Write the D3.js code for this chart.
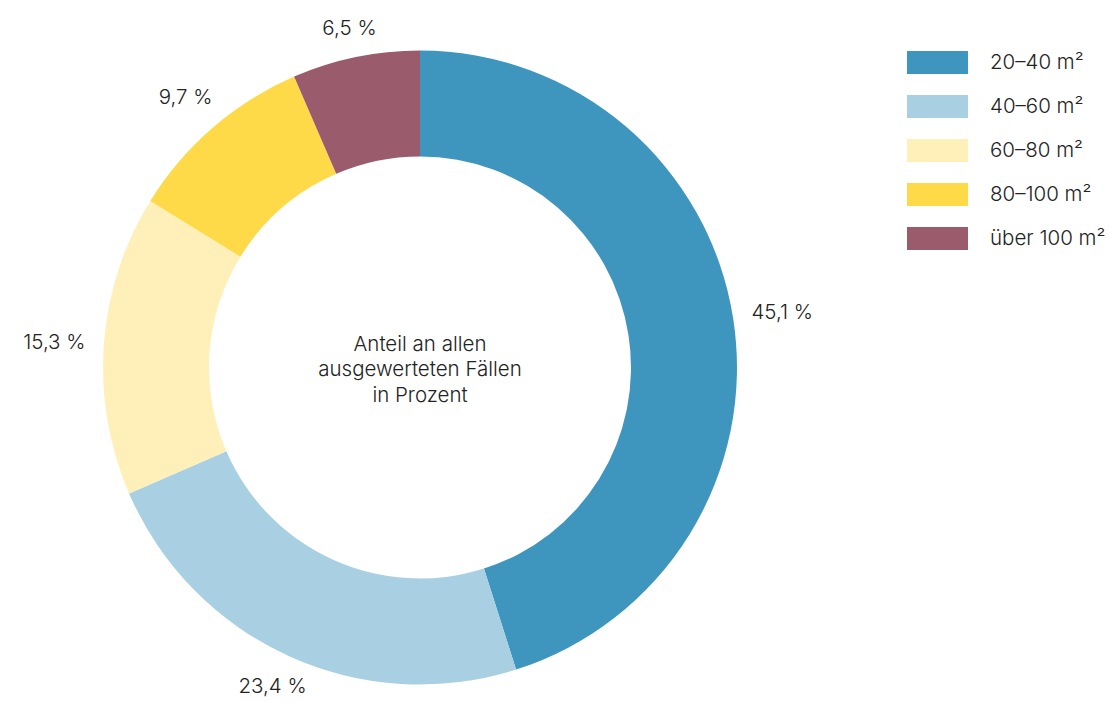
<!DOCTYPE html>
<html>
<head>
<meta charset="utf-8">
<script src="https://cdn.jsdelivr.net/npm/d3@7"></script>
<style>
  html, body { margin: 0; padding: 0; background: #ffffff; }
  svg { display: block; }
  text { font-family: Inter, Roboto, sans-serif; font-weight: 300; fill: #222222; }
</style>
</head>
<body>
<svg id="chart" width="1109" height="702"></svg>
<script>
// Wohnflächenklassen und ihre Anteile (Prozent)
const categories = ["20–40 m²", "40–60 m²", "60–80 m²", "80–100 m²", "über 100 m²"];
const shares = [45.1, 23.4, 15.3, 9.7, 6.5];
const colors = ["#3e96bf", "#a8d0e2", "#fff0b9", "#ffda48", "#9a5b6d"];
const centerLines = ["Anteil an allen", "ausgewerteten Fällen", "in Prozent"];

const width = 1109, height = 702;
const svg = d3.select("#chart");
const cx = 420, cy = 367.5;
const outerR = 317, innerR = 211;
const fontSize = 20.5;

const data = categories.map((c, i) => ({ category: c, value: shares[i] }));
const color = d3.scaleOrdinal().domain(categories).range(colors);

const pie = d3.pie().value(d => d.value).sort(null).startAngle(0).endAngle(2 * Math.PI);
const arc = d3.arc().innerRadius(innerR).outerRadius(outerR);
const arcs = pie(data);

const g = svg.append("g").attr("transform", `translate(${cx},${cy})`);

g.selectAll("path.slice")
  .data(arcs)
  .join("path")
  .attr("class", "slice")
  .attr("d", arc)
  .attr("fill", d => color(d.data.category));

// percentage labels outside the ring, kept inside the drawing area
const fmt = v => v.toFixed(1).replace(".", ",") + " %";
const labelBase = 335;
const labels = g.selectAll("text.pct")
  .data(arcs)
  .join("text")
  .attr("class", "pct")
  .attr("font-size", fontSize)
  .attr("text-anchor", "middle")
  .attr("dominant-baseline", "central")
  .text(d => fmt(d.data.value));

labels.each(function(d) {
  const w = this.getComputedTextLength();
  const h = fontSize * 0.72;
  const a = (d.startAngle + d.endAngle) / 2;
  const s = Math.sin(a), c = Math.cos(a);
  const r = labelBase + (w / 2) * Math.abs(s) + (h / 2) * Math.abs(c);
  const maxY = height - cy - fontSize * 0.8;
  const minY = -cy + fontSize * 0.8;
  d3.select(this)
    .attr("x", r * s)
    .attr("y", Math.max(minY, Math.min(maxY, -r * c)));
});

// caption in the middle of the ring
const lineH = 25.5;
g.append("text")
  .attr("text-anchor", "middle")
  .attr("font-size", fontSize)
  .selectAll("tspan")
  .data(centerLines)
  .join("tspan")
  .attr("x", 0)
  .attr("y", (d, i) => (i - 1) * lineH + 8.5)
  .text(d => d);

// legend
const legend = svg.append("g").attr("transform", "translate(907,51)");
const item = legend.selectAll("g.item")
  .data(categories)
  .join("g")
  .attr("class", "item")
  .attr("transform", (d, i) => `translate(0,${i * 44})`);

item.append("rect")
  .attr("width", 61)
  .attr("height", 23)
  .attr("fill", d => color(d));

item.append("text")
  .attr("x", 83)
  .attr("y", 17.5)
  .attr("font-size", fontSize)
  .text(d => d);
</script>
</body>
</html>
